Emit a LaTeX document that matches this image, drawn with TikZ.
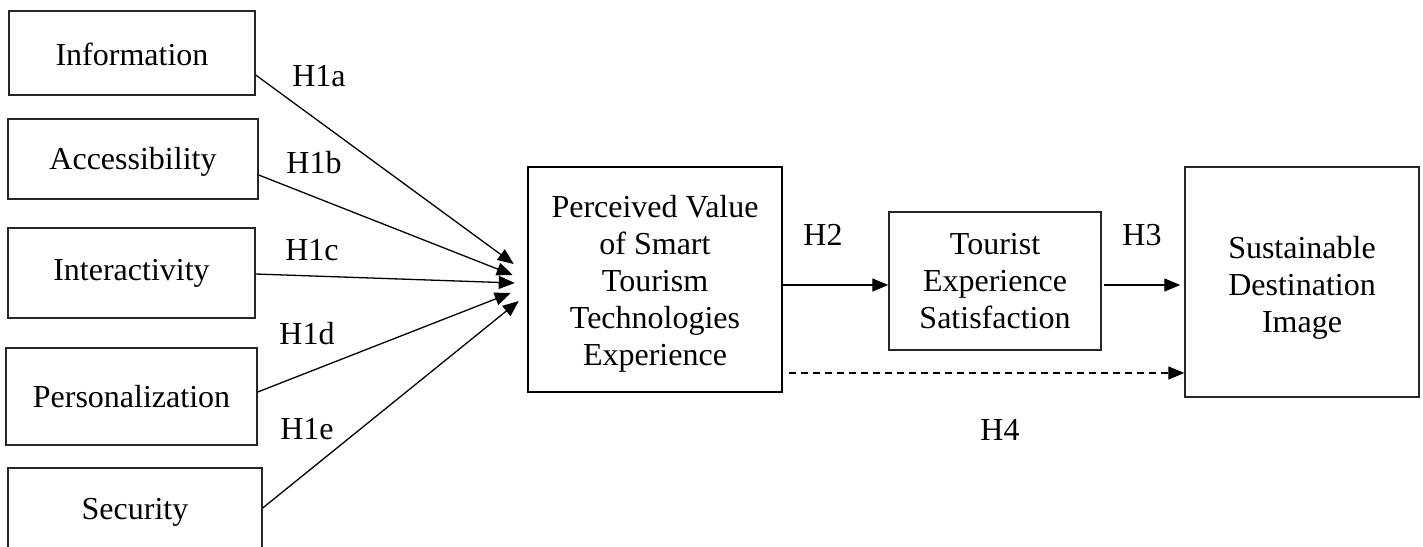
\documentclass[tikz,border=0pt]{standalone}
\usepackage{fontspec}
\setmainfont{Liberation Serif}
\usetikzlibrary{arrows.meta,calc}
\begin{document}
\begin{tikzpicture}[x=1pt,y=-1pt,
  box/.style={draw=black!85, line width=1.4pt, inner sep=0pt, align=center, font=\fontsize{32}{37}\selectfont},
  arr/.style={line width=1.3pt, -{Triangle[length=16pt,width=13pt]}},
  dashline/.style={dash pattern=on 7pt off 5pt},
  lab/.style={inner sep=0pt, font=\fontsize{32}{37}\selectfont}]
\useasboundingbox (0,0) rectangle (1423,546);
% left column
\node[box, minimum width=246pt, minimum height=84pt] (info) at (132,53) {\rule{0pt}{26pt}Information};
\node[box, minimum width=250pt, minimum height=80pt] (access) at (133,159) {\rule{0pt}{27pt}Accessibility};
\node[box, minimum width=247pt, minimum height=90pt] (inter) at (131.5,273) {Interactivity};
\node[box, minimum width=251pt, minimum height=97pt] (pers) at (131.5,396.5) {Personalization};
\node[box, minimum width=254pt, minimum height=88pt] (secu) at (135,512) {Security};
% main boxes
\node[box, draw=black, line width=2.5pt, minimum width=254pt, minimum height=225pt] (pv) at (655,279.5) {\rule{0pt}{31pt}Perceived Value\\of Smart\\Tourism\\Technologies\\Experience};
\node[box, minimum width=212pt, minimum height=138pt] (tes) at (995,281) {Tourist\\Experience\\Satisfaction};
\node[box, minimum width=234pt, minimum height=230pt] (sdi) at (1302,282) {\rule{0pt}{34pt}Sustainable\\Destination\\Image};
% H1 arrows
\draw[arr] ([yshift=-22pt]info.east) -- ([xshift=-13pt,yshift=15.5pt]pv.west);
\draw[arr] ([yshift=-16pt]access.east) -- ([xshift=-14pt,yshift=4.5pt]pv.west);
\draw[arr] ([yshift=-1pt]inter.east) -- ([xshift=-12pt,yshift=-3.5pt]pv.west);
\draw[arr] ([yshift=4.5pt]pers.east) -- ([xshift=-16pt,yshift=-13.5pt]pv.west);
\draw[arr] ([yshift=4pt]secu.east) -- ([xshift=-8pt,yshift=-21.5pt]pv.west);
% H2, H3, H4
\coordinate (h2s) at ([yshift=-5.5pt]pv.east);
\draw[arr] (h2s) -- (h2s -| tes.west);
\coordinate (h3s) at ([xshift=2pt,yshift=-4pt]tes.east);
\draw[arr] (h3s) -- ($(h3s -| sdi.west)+(-4pt,0)$);
\coordinate (h4s) at ([xshift=6pt,yshift=-93.5pt]pv.east);
\draw[arr, dashline] (h4s) -- (h4s -| sdi.west);
% labels
\node[lab] (l1a) at (319,76) {H1a};
\node[lab] (l1b) at (314,163) {H1b};
\node[lab] (l1c) at (312,250) {H1c};
\node[lab] (l1d) at (307,334) {H1d};
\node[lab] (l1e) at (307,429) {H1e};
\node[lab] (l2) at (823,235) {H2};
\node[lab] (l3) at (1142,235) {H3};
\node[lab] (l4) at (1000,430) {H4};
\end{tikzpicture}
\end{document}
